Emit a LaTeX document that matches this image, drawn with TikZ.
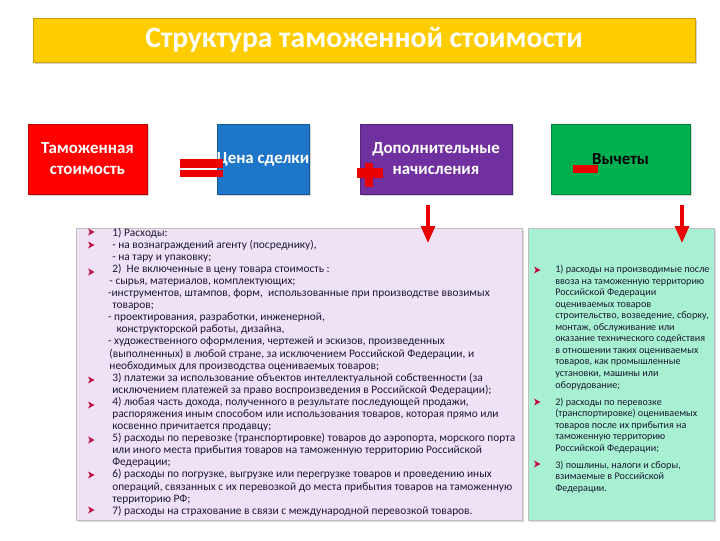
\documentclass[tikz,border=0pt]{standalone}
\usepackage{fontspec}
\setmainfont{Carlito}
\usetikzlibrary{shadows,arrows.meta}

\definecolor{titleyellow}{RGB}{255,204,0}
\definecolor{boxred}{RGB}{255,0,0}
\definecolor{boxblue}{RGB}{30,118,200}
\definecolor{boxviolet}{RGB}{112,48,160}
\definecolor{boxgreen}{RGB}{0,176,80}
\definecolor{signred}{RGB}{235,0,0}
\definecolor{lilac}{RGB}{240,226,246}
\definecolor{mint}{RGB}{168,240,210}
\definecolor{listtext}{RGB}{25,25,50}
\definecolor{bulletred}{RGB}{190,10,60}

\tikzset{
  titlebar/.style={draw=titleyellow!80!black, fill=titleyellow, text=white,
    font=\bfseries\fontsize{21}{24}\selectfont, inner sep=0pt,
    drop shadow={opacity=0.35,shadow xshift=1.5pt,shadow yshift=-1.5pt}},
  headbox/.style={draw=#1!75!black, fill=#1, text=white, align=center,
    font=\bfseries\fontsize{12}{15}\selectfont, inner sep=0pt,
    drop shadow={opacity=0.35,shadow xshift=1.5pt,shadow yshift=-1.5pt}},
  listbox/.style={draw=black!25, inner sep=0pt,
    drop shadow={opacity=0.3,shadow xshift=1.5pt,shadow yshift=-1.5pt}},
  listtxt/.style={anchor=north west, inner sep=0pt, align=left, text=listtext},
  downarrow/.style={draw=signred, line width=2.4pt,
    -{Triangle[length=4.2mm,width=3.4mm]}},
  bul/.pic={\fill[bulletred] (-3,-3.5) -- (3.5,0) -- (-3,3.5) -- (-1.2,0) -- cycle;}
}

\begin{document}
\begin{tikzpicture}[x=0.025cm,y=-0.025cm]
    \useasboundingbox (0,0) rectangle (720,540);
    % title
    \node[titlebar, minimum width=16.55cm, minimum height=1.1cm] (title) at (364,40) {Структура таможенной стоимости};
    % top row
    \node[headbox=boxred, minimum width=2.975cm, minimum height=1.75cm] (tams) at (87.5,159) {Таможенная\\стоимость};
    \node[headbox=boxblue, minimum width=2.25cm, minimum height=1.75cm] (cena) at (263,159) {Цена сделки};
    \node[headbox=boxviolet, minimum width=3.8cm, minimum height=1.75cm] (dop) at (436,159) {Дополнительные\\начисления};
    \node[headbox=boxgreen, text=black, minimum width=3.475cm, minimum height=1.75cm] (vych) at (620.5,159) {Вычеты};
    % signs
    \fill[signred] (180,159) rectangle (223,168);
    \fill[signred] (180,170) rectangle (223,177);
    \fill[signred] (357,168) rectangle (383,178);
    \fill[signred] (365,163) rectangle (373,187);
    \fill[signred] (573,165) rectangle (598,173);
    % lists
    \node[listbox, fill=lilac, minimum width=11.15cm, minimum height=7.3cm] (lbox) at (299,374) {};
    \node[listbox, fill=mint, minimum width=4.65cm, minimum height=7.3cm] (rbox) at (621,374) {};
    \coordinate (dopA) at (428,205);
    \coordinate (dopB) at (428,243);
    \coordinate (vychA) at (682,205);
    \coordinate (vychB) at (682,243);
    \draw[downarrow] (dopA) -- (dopB);
    \draw[downarrow] (vychA) -- (vychB);
    \node[listtxt, font=\fontsize{8.1}{8.6}\selectfont] (ltext) at (112,227.5) {%
      1) Расходы:\\
      - на вознаграждений агенту (посреднику),\\
      - на тару и упаковку;\\
      2)\ \ Не включенные в цену товара стоимость :\\
      \hspace*{-2pt}- сырья, материалов, комплектующих;\\
      \hspace*{-3pt}-инструментов, штампов, форм,\ \ использованные при производстве ввозимых\\
      товаров;\\
      \hspace*{-3pt}- проектирования, разработки, инженерной,\\
      \hspace*{3pt}конструкторской работы, дизайна,\\
      \hspace*{-3pt}- художественного оформления, чертежей и эскизов, произведенных\\
      \hspace*{-2pt}(выполненных) в любой стране, за исключением Российской Федерации, и\\
      \hspace*{-2pt}необходимых для производства оцениваемых товаров;\\
      3) платежи за использование объектов интеллектуальной собственности (за\\
      исключением платежей за право воспроизведения в Российской Федерации);\\
      4) любая часть дохода, полученного в результате последующей продажи,\\
      распоряжения иным способом или использования товаров, которая прямо или\\
      косвенно причитается продавцу;\\
      5) расходы по перевозке (транспортировке) товаров до аэропорта, морского порта\\
      или иного места прибытия товаров на таможенную территорию Российской\\
      Федерации;\\
      6) расходы по погрузке, выгрузке или перегрузке товаров и проведению иных\\
      операций, связанных с их перевозкой до места прибытия товаров на таможенную\\
      территорию РФ;\\
      7) расходы на страхование в связи с международной перевозкой товаров.};
    \node[listtxt, font=\fontsize{7.2}{8.2}\selectfont] (rtext) at (555,265) {%
      1) расходы на производимые после\\
      ввоза на таможенную территорию\\
      Российской Федерации\\
      оцениваемых товаров\\
      строительство, возведение, сборку,\\
      монтаж, обслуживание или\\
      оказание технического содействия\\
      в отношении таких оцениваемых\\
      товаров, как промышленные\\
      установки, машины или\\
      оборудование;\\[4pt]
      2) расходы по перевозке\\
      (транспортировке) оцениваемых\\
      товаров после их прибытия на\\
      таможенную территорию\\
      Российской Федерации;\\[4pt]
      3) пошлины, налоги и сборы,\\
      взимаемые в Российской\\
      Федерации.};
    % bullets
    \foreach \y in {232,245,272,380,405,440,475,510}
      \pic at (91,\y) {bul};
    \foreach \y in {270,402,464}
      \pic at (537,\y) {bul};
\end{tikzpicture}
\end{document}
